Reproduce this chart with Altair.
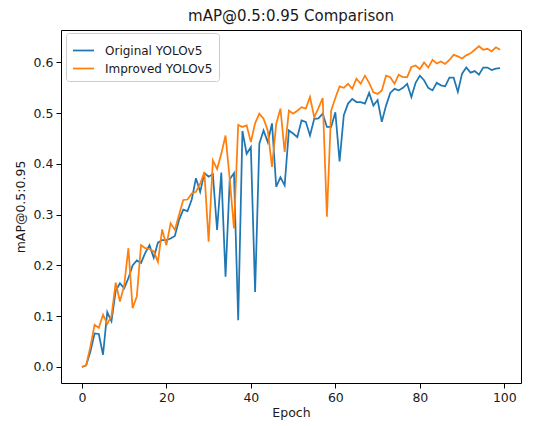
import altair as alt
import pandas as pd

epochs = list(range(100))

original = [
    0.000, 0.003, 0.030, 0.066, 0.065, 0.024, 0.108, 0.090, 0.150, 0.165,
    0.155, 0.175, 0.200, 0.210, 0.205, 0.225, 0.240, 0.215, 0.245, 0.250,
    0.250, 0.253, 0.258, 0.290, 0.310, 0.307, 0.330, 0.372, 0.345, 0.382,
    0.375, 0.380, 0.270, 0.383, 0.178, 0.370, 0.382, 0.092, 0.465, 0.420,
    0.433, 0.148, 0.440, 0.466, 0.443, 0.480, 0.355, 0.374, 0.358, 0.466,
    0.460, 0.453, 0.486, 0.483, 0.456, 0.489, 0.490, 0.499, 0.473, 0.473,
    0.502, 0.405, 0.496, 0.519, 0.528, 0.522, 0.522, 0.519, 0.540, 0.515,
    0.526, 0.483, 0.515, 0.540, 0.548, 0.545, 0.550, 0.558, 0.532, 0.560,
    0.574, 0.565, 0.550, 0.545, 0.560, 0.555, 0.553, 0.570, 0.570, 0.542,
    0.578, 0.590, 0.580, 0.583, 0.576, 0.590, 0.590, 0.585, 0.588, 0.589,
]

improved = [
    0.000, 0.003, 0.040, 0.083, 0.077, 0.103, 0.085, 0.100, 0.166, 0.129,
    0.160, 0.234, 0.116, 0.139, 0.240, 0.234, 0.232, 0.228, 0.207, 0.271,
    0.240, 0.283, 0.270, 0.300, 0.329, 0.330, 0.342, 0.345, 0.361, 0.384,
    0.247, 0.407, 0.390, 0.420, 0.456, 0.370, 0.273, 0.477, 0.473, 0.476,
    0.443, 0.480, 0.499, 0.489, 0.466, 0.394, 0.479, 0.509, 0.424, 0.505,
    0.499, 0.505, 0.512, 0.509, 0.532, 0.492, 0.510, 0.530, 0.296, 0.505,
    0.530, 0.553, 0.550, 0.558, 0.548, 0.568, 0.558, 0.574, 0.560, 0.541,
    0.538, 0.545, 0.574, 0.571, 0.558, 0.576, 0.571, 0.571, 0.591, 0.594,
    0.587, 0.600, 0.590, 0.605, 0.598, 0.602, 0.597, 0.605, 0.615, 0.612,
    0.608, 0.614, 0.618, 0.625, 0.632, 0.625, 0.627, 0.622, 0.630, 0.625,
]

series_names = ["Original YOLOv5", "Improved YOLOv5"]
series_colors = ["#1f77b4", "#ff7f0e"]
x_ticks = [0, 20, 40, 60, 80, 100]
y_ticks = [0.0, 0.1, 0.2, 0.3, 0.4, 0.5, 0.6]

df = pd.DataFrame({
    "Epoch": epochs * 2,
    "mAP": original + improved,
    "Model": [series_names[0]] * len(epochs) + [series_names[1]] * len(epochs),
    "order": [0] * len(epochs) + [1] * len(epochs),
})

axis_common = dict(
    grid=False, domain=False, ticks=True, tickSize=5, tickColor="#000000",
    tickWidth=1, labelColor="#1a1a1a", titleColor="#1a1a1a",
    labelFontSize=12.5, titleFontSize=12.5, titleFontWeight="normal",
    labelPadding=3,
)

chart = alt.Chart(df).mark_line(strokeWidth=1.75).encode(
    x=alt.X("Epoch:Q",
            scale=alt.Scale(domain=[-4.95, 103.95], nice=False, zero=False),
            axis=alt.Axis(values=x_ticks, format="d", title="Epoch",
                          titlePadding=3, **axis_common)),
    y=alt.Y("mAP:Q",
            scale=alt.Scale(domain=[-0.0316, 0.664], nice=False, zero=False),
            axis=alt.Axis(values=y_ticks, format=".1f", title="mAP@0.5:0.95",
                          titlePadding=6, **axis_common)),
    color=alt.Color("Model:N",
                    scale=alt.Scale(domain=series_names, range=series_colors),
                    legend=alt.Legend(title=None, orient="none", legendX=5, legendY=3,
                                      symbolType="stroke", symbolSize=441,
                                      symbolStrokeWidth=1.75, labelFontSize=12,
                                      labelColor="#1a1a1a", labelOffset=10,
                                      fillColor="white", strokeColor="#cccccc",
                                      cornerRadius=3, padding=6, rowPadding=0)),
    order=alt.Order("order:Q"),
).properties(
    width=460,
    height=353,
    title=alt.Title("mAP@0.5:0.95 Comparison", fontSize=15, fontWeight="normal",
                    color="#1a1a1a", offset=6),
    autosize=alt.AutoSizeParams(type="none"),
    padding={"left": 53, "top": 22, "right": 10, "bottom": 42},
).configure(
    font="DejaVu Sans",
).configure_view(
    stroke="#000000", strokeWidth=1,
)

chart.save("out.html", embed_options={"renderer": "svg", "actions": False})
